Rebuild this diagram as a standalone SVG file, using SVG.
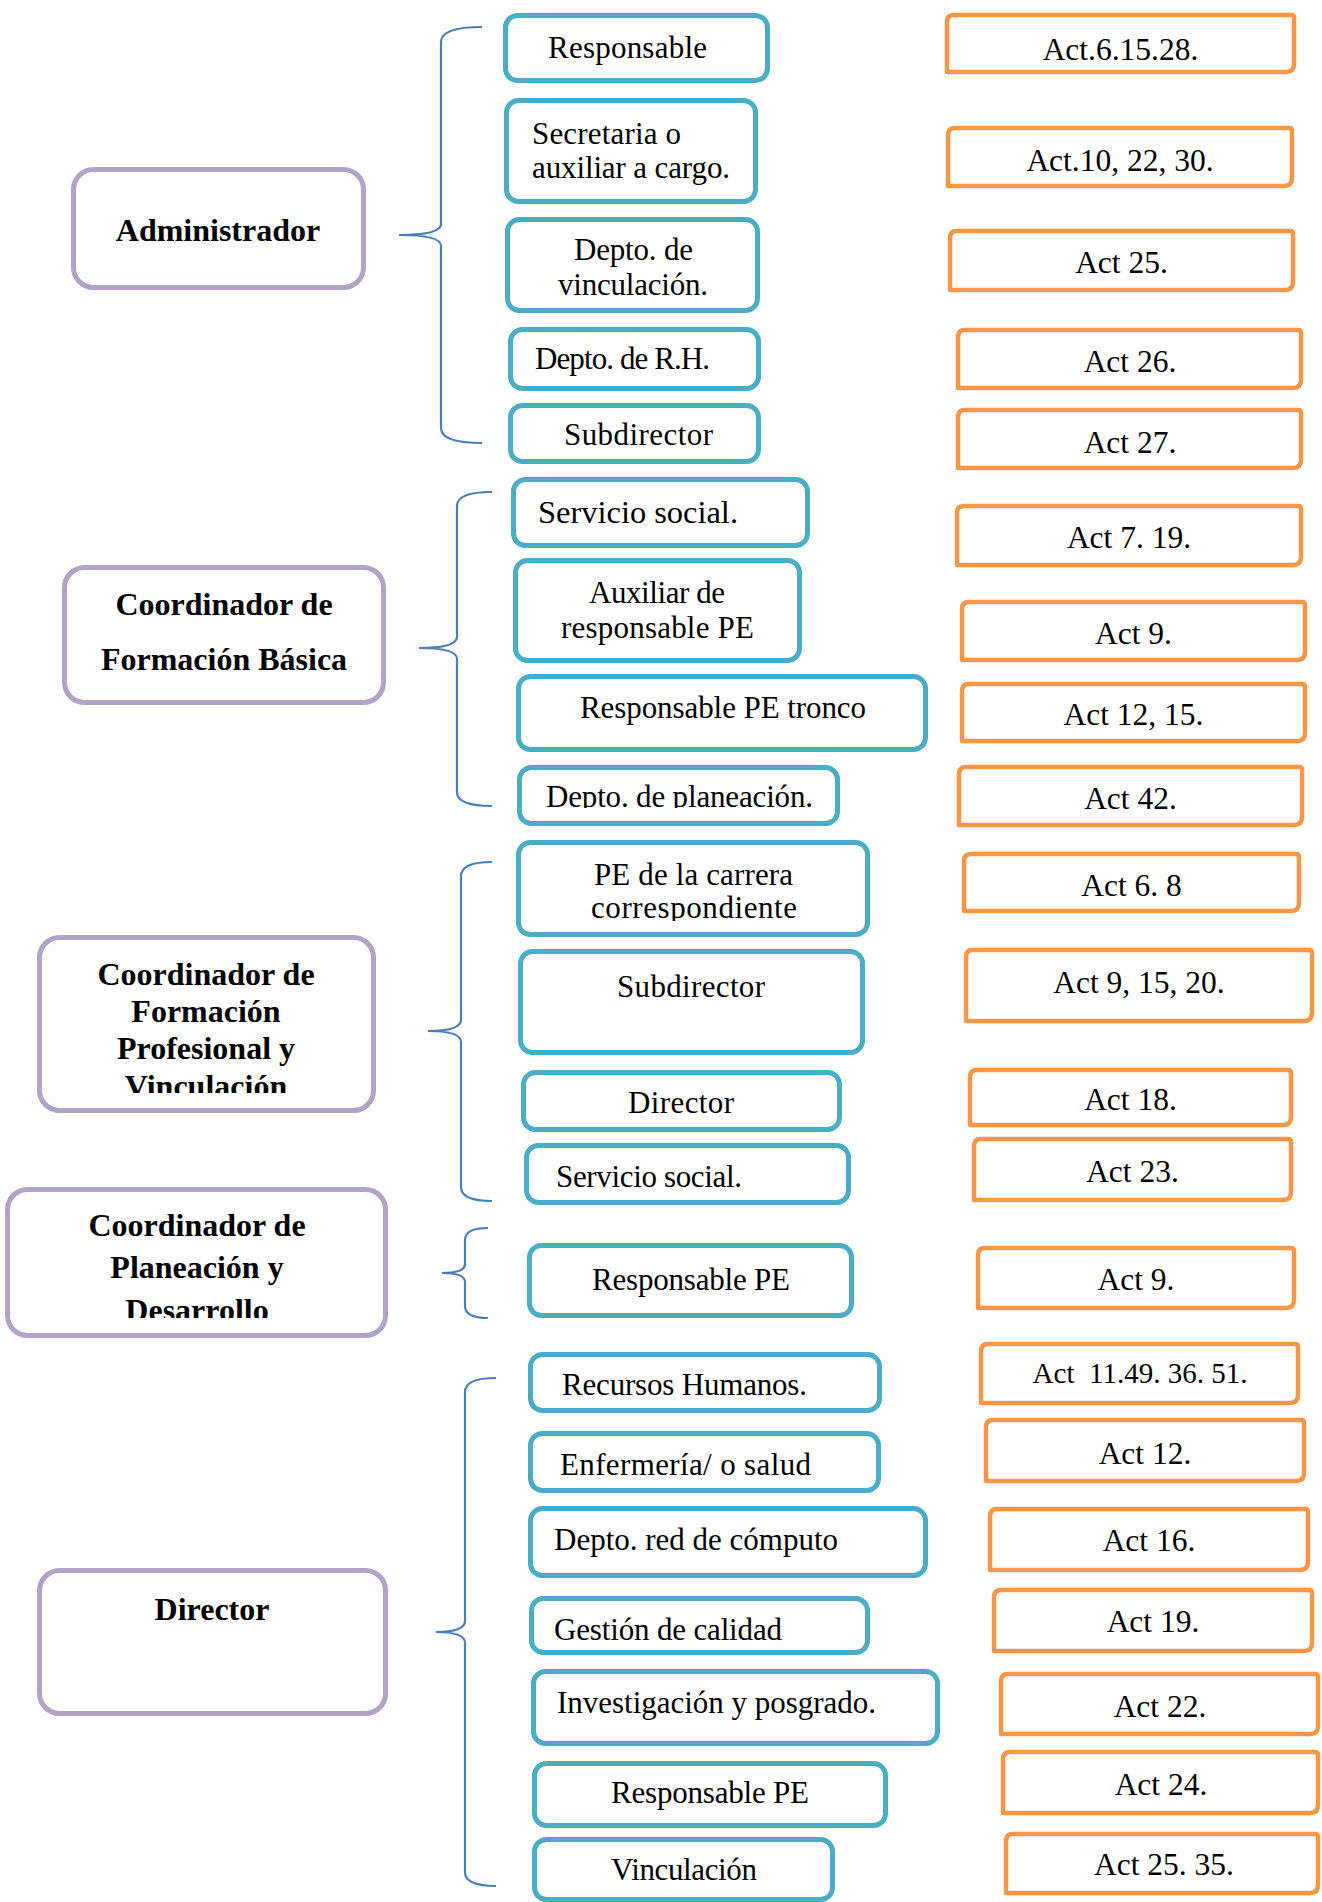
<svg xmlns="http://www.w3.org/2000/svg" width="1322" height="1902" viewBox="0 0 1322 1902">
<style>
.b{fill:#fff;stroke:#4BACC6;stroke-width:5}
.o{fill:#fff;stroke:#F79646;stroke-width:4.5;stroke-linejoin:round}
.p{fill:#fff;stroke:#B3A2C7;stroke-width:5}
.br{fill:none;stroke:#4A7EBB;stroke-width:2.2}
.t{font-family:"Liberation Serif",serif;font-size:31px;fill:#000}
.ta{font-family:"Liberation Serif",serif;font-size:31.5px;fill:#000;text-anchor:middle}
.tp{font-family:"Liberation Serif",serif;font-size:32px;font-weight:bold;fill:#000;text-anchor:middle}
</style>
<defs>
<clipPath id="cPlan"><rect x="517" y="765" width="323" height="43"/></clipPath>
<clipPath id="cCorr"><rect x="516" y="840" width="354" height="81"/></clipPath>
<clipPath id="cVinc"><rect x="37" y="935" width="339" height="158"/></clipPath>
<clipPath id="cDes"><rect x="5" y="1187" width="383" height="131"/></clipPath>
</defs>
<rect width="1322" height="1902" fill="#fff"/>

<g id="connectors">
<path class="br" d="M482,27 Q441,27 441,42 L441,224 Q441,235 399,235 Q441,235 441,246 L441,428 Q441,443 482,443"/>
<path class="br" d="M492,492 Q457,492 457,506 L457,637 Q457,648 419,648 Q457,648 457,659 L457,792 Q457,806 492,806"/>
<path class="br" d="M492,862 Q461,862 461,876 L461,1020 Q461,1031 428,1031 Q461,1031 461,1042 L461,1187 Q461,1201 492,1201"/>
<path class="br" d="M488,1228 Q465,1228 465,1240 L465,1264 Q465,1273 442,1273 Q465,1273 465,1282 L465,1306 Q465,1318 488,1318"/>
<path class="br" d="M496,1378 Q465,1378 465,1392 L465,1621 Q465,1632 436,1632 Q465,1632 465,1643 L465,1872 Q465,1886 496,1886"/>
</g>

<g id="p-administrador"><rect class="p" x="73.5" y="169.5" width="290" height="118" rx="20"/><text class="tp" x="218" y="241">Administrador</text></g>
<g id="p-basica"><rect class="p" x="64.5" y="567.5" width="319" height="135" rx="20"/><text class="tp" x="224" y="615">Coordinador de</text><text class="tp" x="224" y="670">Formación Básica</text></g>
<g id="p-profesional"><rect class="p" x="39.5" y="937.5" width="334" height="173" rx="20"/><g clip-path="url(#cVinc)"><text class="tp" x="206" y="985">Coordinador de</text><text class="tp" x="206" y="1022">Formación</text><text class="tp" x="206" y="1059">Profesional y</text><text class="tp" x="206" y="1097">Vinculación</text></g></g>
<g id="p-planeacion"><rect class="p" x="7.5" y="1189.5" width="378" height="146" rx="20"/><g clip-path="url(#cDes)"><text class="tp" x="197" y="1236">Coordinador de</text><text class="tp" x="197" y="1278">Planeación y</text><text class="tp" x="197" y="1321">Desarrollo</text></g></g>
<g id="p-director"><rect class="p" x="39.5" y="1570.5" width="346" height="143" rx="20"/><text class="tp" x="212" y="1620">Director</text></g>

<g id="b1"><rect class="b" x="505.5" y="15.5" width="262" height="65" rx="12"/><text class="t" x="548" y="58" textLength="159">Responsable</text></g>
<g id="b2"><rect class="b" x="506.5" y="100.5" width="249" height="101" rx="12"/><text class="t" x="532" y="144" textLength="149">Secretaria o</text><text class="t" x="532" y="178" textLength="198">auxiliar a cargo.</text></g>
<g id="b3"><rect class="b" x="507.5" y="219.5" width="250" height="91" rx="12"/><text class="t" x="574" y="260" textLength="119">Depto. de</text><text class="t" x="558" y="295" textLength="150">vinculación.</text></g>
<g id="b4"><rect class="b" x="510.5" y="329.5" width="248" height="59" rx="12"/><text class="t" x="535" y="369" textLength="175">Depto. de R.H.</text></g>
<g id="b5"><rect class="b" x="510.5" y="405.5" width="248" height="56" rx="12"/><text class="t" x="564" y="445" textLength="149">Subdirector</text></g>
<g id="b6"><rect class="b" x="513.5" y="479.5" width="294" height="66" rx="12"/><text class="t" x="538" y="523" textLength="200" style="font-size:32.5px">Servicio social.</text></g>
<g id="b7"><rect class="b" x="515.5" y="560.5" width="284" height="100" rx="12"/><text class="t" x="589" y="603" textLength="136">Auxiliar de</text><text class="t" x="561" y="638" textLength="193">responsable PE</text></g>
<g id="b8"><rect class="b" x="518.5" y="676.5" width="407" height="73" rx="12"/><text class="t" x="580" y="718" textLength="286">Responsable PE tronco</text></g>
<g id="b9"><rect class="b" x="519.5" y="767.5" width="318" height="56" rx="12"/><text class="t" x="546" y="807" textLength="267" clip-path="url(#cPlan)">Depto. de planeación.</text></g>
<g id="b10"><rect class="b" x="518.5" y="842.5" width="349" height="92" rx="12"/><text class="t" x="594" y="885" textLength="199">PE de la carrera</text><text class="t" x="591" y="918" textLength="206" clip-path="url(#cCorr)">correspondiente</text></g>
<g id="b11"><rect class="b" x="520.5" y="951.5" width="342" height="101" rx="12"/><text class="t" x="617" y="997" textLength="148">Subdirector</text></g>
<g id="b12"><rect class="b" x="523.5" y="1072.5" width="316" height="57" rx="12"/><text class="t" x="628" y="1113" textLength="106">Director</text></g>
<g id="b13"><rect class="b" x="526.5" y="1145.5" width="322" height="57" rx="12"/><text class="t" x="556" y="1187" textLength="186">Servicio social.</text></g>
<g id="b14"><rect class="b" x="529.5" y="1245.5" width="322" height="70" rx="12"/><text class="t" x="592" y="1290" textLength="198">Responsable PE</text></g>
<g id="b15"><rect class="b" x="530.5" y="1354.5" width="349" height="56" rx="12"/><text class="t" x="562" y="1395" textLength="245">Recursos Humanos.</text></g>
<g id="b16"><rect class="b" x="530.5" y="1433.5" width="348" height="57" rx="12"/><text class="t" x="560" y="1475" textLength="251">Enfermería/ o salud</text></g>
<g id="b17"><rect class="b" x="530.5" y="1508.5" width="395" height="67" rx="12"/><text class="t" x="554" y="1550" textLength="284">Depto. red de cómputo</text></g>
<g id="b18"><rect class="b" x="531.5" y="1598.5" width="336" height="54" rx="12"/><text class="t" x="554" y="1640" textLength="228">Gestión de calidad</text></g>
<g id="b19"><rect class="b" x="533.5" y="1671.5" width="404" height="72" rx="12"/><text class="t" x="557" y="1713" textLength="319">Investigación y posgrado.</text></g>
<g id="b20"><rect class="b" x="534.5" y="1763.5" width="351" height="62" rx="12"/><text class="t" x="611" y="1803" textLength="198">Responsable PE</text></g>
<g id="b21"><rect class="b" x="534.5" y="1839.5" width="298" height="60" rx="12"/><text class="t" x="611" y="1880" textLength="146">Vinculación</text></g>

<g id="o1"><path class="o" d="M947,22 Q947,15 954,15 L1291,15 Q1294,15 1294,18 L1294,64 Q1294,72 1286,72 L947,72 Z"/><text class="ta" x="1120.5" y="60">Act.6.15.28.</text></g>
<g id="o2"><path class="o" d="M948,135 Q948,128 955,128 L1289,128 Q1292,128 1292,131 L1292,178 Q1292,186 1284,186 L948,186 Z"/><text class="ta" x="1120" y="171">Act.10, 22, 30.</text></g>
<g id="o3"><path class="o" d="M950,238 Q950,231 957,231 L1290,231 Q1293,231 1293,234 L1293,282 Q1293,290 1285,290 L950,290 Z"/><text class="ta" x="1121.5" y="273">Act 25.</text></g>
<g id="o4"><path class="o" d="M958,337 Q958,330 965,330 L1298,330 Q1301,330 1301,333 L1301,380 Q1301,388 1293,388 L958,388 Z"/><text class="ta" x="1130" y="372">Act 26.</text></g>
<g id="o5"><path class="o" d="M958,417 Q958,410 965,410 L1298,410 Q1301,410 1301,413 L1301,460 Q1301,468 1293,468 L958,468 Z"/><text class="ta" x="1130" y="453">Act 27.</text></g>
<g id="o6"><path class="o" d="M957,513 Q957,506 964,506 L1298,506 Q1301,506 1301,509 L1301,557 Q1301,565 1293,565 L957,565 Z"/><text class="ta" x="1129" y="548">Act 7. 19.</text></g>
<g id="o7"><path class="o" d="M962,609 Q962,602 969,602 L1302,602 Q1305,602 1305,605 L1305,652 Q1305,660 1297,660 L962,660 Z"/><text class="ta" x="1133.5" y="644">Act 9.</text></g>
<g id="o8"><path class="o" d="M962,691 Q962,684 969,684 L1302,684 Q1305,684 1305,687 L1305,733 Q1305,741 1297,741 L962,741 Z"/><text class="ta" x="1133.5" y="725">Act 12, 15.</text></g>
<g id="o9"><path class="o" d="M959,774 Q959,767 966,767 L1299,767 Q1302,767 1302,770 L1302,817 Q1302,825 1294,825 L959,825 Z"/><text class="ta" x="1130.5" y="809">Act 42.</text></g>
<g id="o10"><path class="o" d="M964,861 Q964,854 971,854 L1296,854 Q1299,854 1299,857 L1299,903 Q1299,911 1291,911 L964,911 Z"/><text class="ta" x="1131.5" y="896">Act 6. 8</text></g>
<g id="o11"><path class="o" d="M966,957 Q966,950 973,950 L1309,950 Q1312,950 1312,953 L1312,1013 Q1312,1021 1304,1021 L966,1021 Z"/><text class="ta" x="1139" y="993">Act 9, 15, 20.</text></g>
<g id="o12"><path class="o" d="M970,1077 Q970,1070 977,1070 L1288,1070 Q1291,1070 1291,1073 L1291,1117 Q1291,1125 1283,1125 L970,1125 Z"/><text class="ta" x="1130.5" y="1110">Act 18.</text></g>
<g id="o13"><path class="o" d="M974,1146 Q974,1139 981,1139 L1288,1139 Q1291,1139 1291,1142 L1291,1192 Q1291,1200 1283,1200 L974,1200 Z"/><text class="ta" x="1132.5" y="1182">Act 23.</text></g>
<g id="o14"><path class="o" d="M978,1255 Q978,1248 985,1248 L1291,1248 Q1294,1248 1294,1251 L1294,1300 Q1294,1308 1286,1308 L978,1308 Z"/><text class="ta" x="1136" y="1290">Act 9.</text></g>
<g id="o15"><path class="o" d="M981,1351 Q981,1344 988,1344 L1295,1344 Q1298,1344 1298,1347 L1298,1395 Q1298,1403 1290,1403 L981,1403 Z"/><text class="ta" x="1140" y="1383" style="font-size:29px" xml:space="preserve">Act  11.49. 36. 51.</text></g>
<g id="o16"><path class="o" d="M986,1427 Q986,1420 993,1420 L1301,1420 Q1304,1420 1304,1423 L1304,1473 Q1304,1481 1296,1481 L986,1481 Z"/><text class="ta" x="1145" y="1464">Act 12.</text></g>
<g id="o17"><path class="o" d="M990,1516 Q990,1509 997,1509 L1305,1509 Q1308,1509 1308,1512 L1308,1562 Q1308,1570 1300,1570 L990,1570 Z"/><text class="ta" x="1149" y="1551">Act 16.</text></g>
<g id="o18"><path class="o" d="M994,1597 Q994,1590 1001,1590 L1309,1590 Q1312,1590 1312,1593 L1312,1643 Q1312,1651 1304,1651 L994,1651 Z"/><text class="ta" x="1153" y="1632">Act 19.</text></g>
<g id="o19"><path class="o" d="M1001,1681 Q1001,1674 1008,1674 L1315,1674 Q1318,1674 1318,1677 L1318,1726 Q1318,1734 1310,1734 L1001,1734 Z"/><text class="ta" x="1160" y="1717">Act 22.</text></g>
<g id="o20"><path class="o" d="M1003,1759 Q1003,1752 1010,1752 L1315,1752 Q1318,1752 1318,1755 L1318,1805 Q1318,1813 1310,1813 L1003,1813 Z"/><text class="ta" x="1161" y="1795">Act 24.</text></g>
<g id="o21"><path class="o" d="M1006,1841 Q1006,1834 1013,1834 L1315,1834 Q1318,1834 1318,1837 L1318,1885 Q1318,1893 1310,1893 L1006,1893 Z"/><text class="ta" x="1164" y="1875">Act 25. 35.</text></g>
</svg>
